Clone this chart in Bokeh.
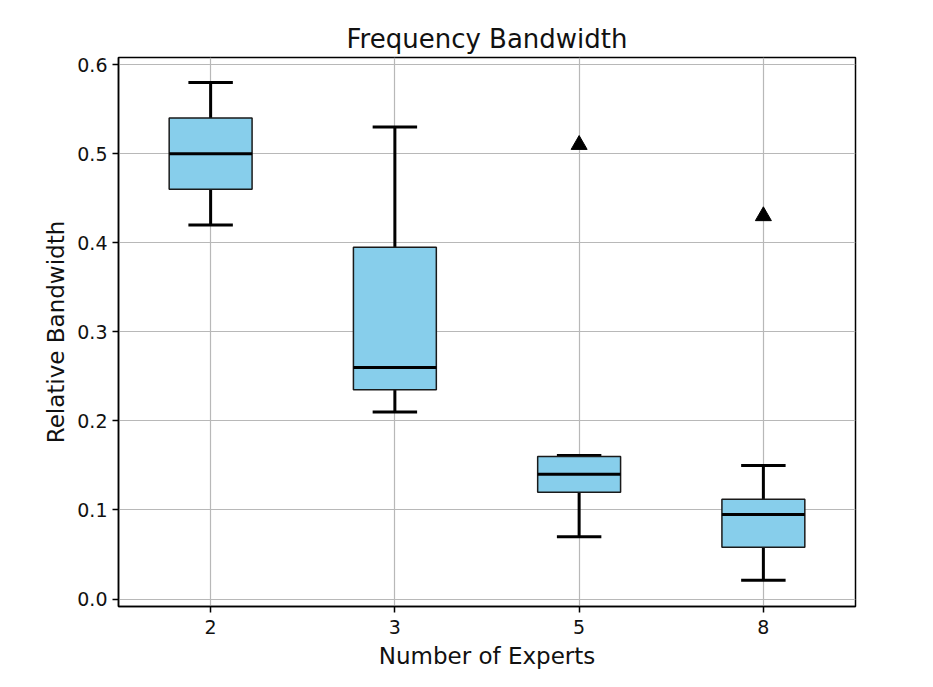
from bokeh.plotting import figure
from bokeh.models import ColumnDataSource, Range1d, FixedTicker, PrintfTickFormatter
from bokeh.embed import file_html
from bokeh.resources import INLINE

# ---- data ----
groups = ["2", "3", "5", "8"]
lower = [0.42, 0.21, 0.07, 0.021]
q1 = [0.46, 0.235, 0.12, 0.058]
median = [0.50, 0.26, 0.14, 0.095]
q3 = [0.54, 0.395, 0.16, 0.112]
upper = [0.58, 0.53, 0.161, 0.15]
outlier_groups = ["5", "8"]
outlier_values = [0.51, 0.43]
y_ticks = [0.0, 0.1, 0.2, 0.3, 0.4, 0.5, 0.6]

BOX_W = 0.45
CAP_W = BOX_W / 2
FONT = "DejaVu Sans"

pos = {g: i + 1 for i, g in enumerate(groups)}
xs = [pos[g] for g in groups]

src = ColumnDataSource(dict(
    x=xs,
    cap_l=[x - CAP_W / 2 for x in xs],
    cap_r=[x + CAP_W / 2 for x in xs],
    box_l=[x - BOX_W / 2 for x in xs],
    box_r=[x + BOX_W / 2 for x in xs],
    lower=lower, q1=q1, median=median, q3=q3, upper=upper,
))
out_src = ColumnDataSource(dict(x=[pos[g] for g in outlier_groups], y=outlier_values))

p = figure(width=925, height=679, output_backend="svg", toolbar_location=None,
           x_range=Range1d(0.5, 4.5), y_range=Range1d(-0.0084, 0.608),
           min_border_left=118, min_border_right=70,
           min_border_top=57, min_border_bottom=73)

p.title.text = "Frequency Bandwidth"
p.title.align = "center"
p.title.text_font = FONT
p.title.text_font_size = "26px"
p.title.text_font_style = "normal"
p.title.text_color = "#111111"
p.title.standoff = 8

p.background_fill_color = "white"
p.border_fill_color = "white"
p.outline_line_color = "black"
p.outline_line_width = 1.5

# whisker stems
p.segment(x0="x", y0="q3", x1="x", y1="upper", source=src, line_color="black", line_width=3)
p.segment(x0="x", y0="lower", x1="x", y1="q1", source=src, line_color="black", line_width=3)
# caps
p.segment(x0="cap_l", y0="upper", x1="cap_r", y1="upper", source=src,
          line_color="black", line_width=3, line_cap="square")
p.segment(x0="cap_l", y0="lower", x1="cap_r", y1="lower", source=src,
          line_color="black", line_width=3, line_cap="square")
# boxes
p.vbar(x="x", width=BOX_W, bottom="q1", top="q3", source=src,
       fill_color="#87CEEB", line_color="#1a1a1a", line_width=1.5)
# medians
p.segment(x0="box_l", y0="median", x1="box_r", y1="median", source=src,
          line_color="black", line_width=3)
# outliers
p.scatter(x="x", y="y", source=out_src, marker="triangle", size=16,
          fill_color="black", line_color="black")

# axes
p.xaxis.ticker = FixedTicker(ticks=xs)
p.xaxis.major_label_overrides = {pos[g]: g for g in groups}
p.yaxis.ticker = FixedTicker(ticks=y_ticks)
p.yaxis.formatter = PrintfTickFormatter(format="%.1f")
p.xaxis.axis_label = "Number of Experts"
p.yaxis.axis_label = "Relative Bandwidth"

for ax in (p.xaxis, p.yaxis):
    ax.axis_label_text_font = FONT
    ax.axis_label_text_font_size = "23px"
    ax.axis_label_text_font_style = "normal"
    ax.axis_label_text_color = "#111111"
    ax.major_label_text_font = FONT
    ax.major_label_text_font_size = "19px"
    ax.major_label_text_color = "#111111"
    ax.axis_line_color = "black"
    ax.axis_line_width = 1.5
    ax.major_tick_line_color = "black"
    ax.major_tick_line_width = 1.5
    ax.major_tick_out = 6
    ax.major_tick_in = 0
    ax.minor_tick_line_color = None
    ax.axis_label_standoff = 5
    ax.major_label_standoff = 5

p.xaxis.major_label_standoff = 7
p.xaxis.axis_label_standoff = 6

p.xgrid.grid_line_color = "#b8b8b8"
p.ygrid.grid_line_color = "#b8b8b8"
p.xgrid.grid_line_width = 1.2
p.ygrid.grid_line_width = 1.2

open("out.html", "w").write(file_html(p, INLINE))
